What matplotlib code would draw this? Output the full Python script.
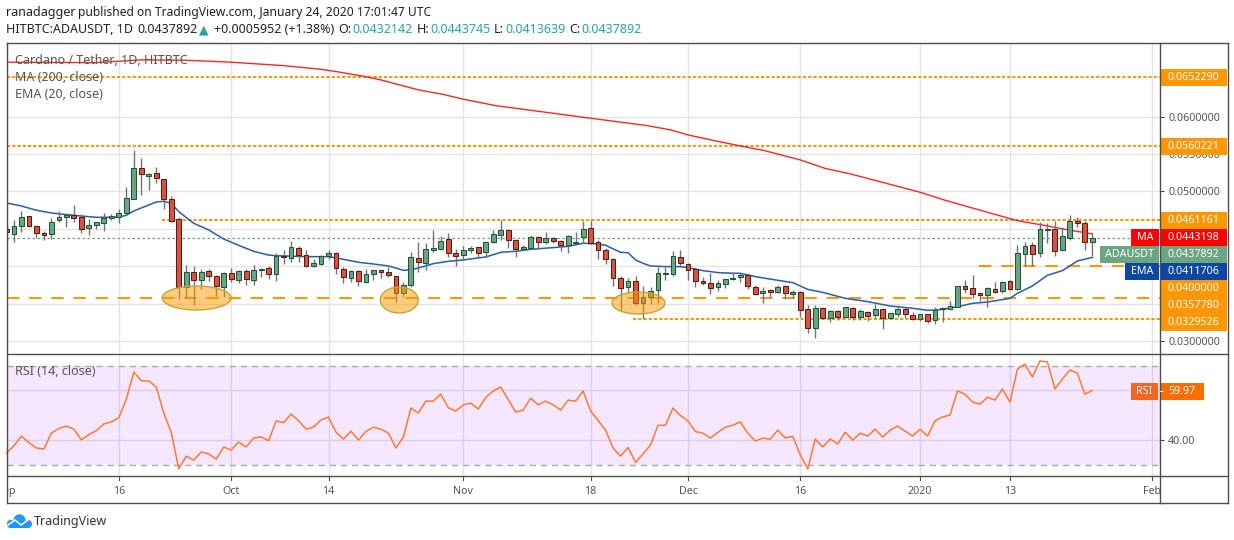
import numpy as np
import pandas as pd
import matplotlib
matplotlib.use('Agg')
import matplotlib.pyplot as plt
import matplotlib.dates as mdates
from matplotlib.patches import Ellipse, Rectangle, Circle

plt.rcParams['font.family'] = ['Noto Sans', 'DejaVu Sans']

W, H = 1234, 540

# prices are in units of 1e-4, days counted from 2019-09-16
opens = [449.3, 442.6, 453.3, 466.6, 453.3, 443.9, 442.6, 461.3, 465.3, 468.0, 465.3, 450.6, 454.6, 457.3, 463.9, 465.7,
         470.6, 489.4, 530.8, 520.1, 524.1, 516.1, 489.4, 462.6, 372.6, 391.8,
         381.0, 393.1, 386.4, 372.6, 390.4, 381.0, 393.1, 381.0, 394.4, 397.1,
         389.1, 414.0, 410.5, 423.8, 415.4, 399.8, 402.5, 413.2, 417.2, 395.8,
         383.8, 393.1, 378.4, 389.1, 394.5, 391.8, 386.4, 363.7, 374.4, 410.5,
         403.8, 421.2, 422.5, 435.9, 417.2, 414.5, 421.2, 425.2, 418.5, 431.9,
         441.3, 447.9, 434.6, 422.5, 423.9, 438.6, 431.9, 437.2, 433.2, 427.9,
         431.4, 438.6, 450.6, 431.9, 421.2, 409.2, 383.8, 371.7, 379.8, 350.3,
         358.4, 367.7, 390.0, 389.1, 411.9, 402.5, 395.8, 379.8, 377.1, 371.7,
         375.8, 382.4, 385.1, 387.8, 371.7, 363.7, 367.7, 365.0, 373.1, 362.4,
         365.0, 342.3, 316.9, 343.7, 330.3, 339.6, 331.6, 343.7, 331.6, 338.3,
         334.3, 342.3, 330.3, 335.6, 342.3, 334.3, 329.0, 335.6, 327.6, 342.3,
         342.8, 345.9, 373.5, 370.4, 363.7, 361.5, 369.0, 367.3, 379.8, 369.0,
         415.9, 427.9, 417.2, 448.8, 449.3, 421.2, 437.2, 460.0, 457.3, 432.1]
closes = [445.2, 453.3, 465.3, 453.3, 443.9, 442.1, 458.6, 465.3, 468.0, 463.9, 449.3, 454.6, 458.6, 463.9, 466.6, 470.6,
          490.7, 530.8, 522.8, 522.8, 518.3, 489.4, 460.4, 372.6, 391.8, 381.0,
          391.8, 386.4, 373.9, 390.4, 382.4, 393.1, 382.4, 394.4, 395.8, 389.1,
          414.0, 411.8, 425.2, 415.4, 400.7, 403.8, 413.2, 417.2, 397.1, 385.1,
          393.1, 379.8, 389.1, 394.5, 391.8, 387.8, 363.7, 374.4, 411.8, 405.2,
          422.5, 423.9, 433.2, 417.2, 413.2, 421.2, 423.9, 417.2, 431.9, 442.6,
          447.9, 434.6, 422.5, 425.2, 438.6, 431.9, 437.2, 433.2, 427.9, 439.9,
          432.0, 449.3, 430.6, 421.2, 409.2, 383.8, 370.4, 379.8, 350.3, 358.4,
          366.4, 390.5, 390.5, 413.2, 403.8, 394.5, 379.8, 377.1, 370.4, 377.1,
          382.4, 383.8, 387.8, 373.1, 362.4, 366.4, 365.0, 371.7, 363.7, 365.0,
          341.0, 316.9, 343.7, 330.3, 339.6, 331.6, 345.0, 331.6, 339.6, 333.0,
          342.3, 330.3, 337.0, 342.3, 335.6, 329.0, 335.6, 327.2, 341.0, 344.1,
          346.8, 373.1, 369.9, 363.3, 361.5, 370.4, 365.9, 378.4, 369.0, 417.2,
          426.5, 415.9, 449.3, 449.3, 419.9, 439.9, 460.0, 457.3, 431.9, 437.9]
highs = [452.8, 461.7, 473.8, 466.6, 453.3, 447.0, 463.9, 473.8, 470.6, 481.8, 469.8, 463.0, 458.6, 471.1, 469.8, 476.4,
         506.3, 555.3, 544.2, 525.0, 532.2, 516.1, 493.8, 465.3, 401.6, 400.2,
         396.2, 395.8, 388.2, 391.8, 397.1, 394.9, 395.8, 401.6, 397.1, 400.2,
         417.2, 421.6, 433.6, 427.0, 421.6, 409.6, 414.9, 421.6, 419.4, 398.5,
         394.5, 394.5, 395.8, 394.5, 394.5, 399.4, 386.4, 378.4, 419.4, 432.3,
         431.0, 448.4, 439.9, 444.4, 422.5, 426.5, 426.5, 425.2, 433.2, 448.4,
         461.8, 449.3, 435.9, 427.9, 441.7, 439.9, 445.3, 438.6, 434.6, 441.3,
         445.3, 460.0, 461.8, 434.6, 423.9, 410.5, 386.4, 383.8, 386.4, 373.5,
         372.2, 398.9, 398.5, 420.3, 421.7, 403.8, 397.1, 386.0, 390.5, 381.1,
         382.4, 391.8, 390.5, 389.1, 374.4, 371.7, 369.0, 374.4, 374.4, 367.7,
         366.4, 348.1, 348.1, 345.0, 341.0, 341.0, 345.0, 345.0, 342.3, 340.1,
         349.4, 343.7, 337.9, 347.7, 343.7, 338.3, 335.6, 335.6, 345.0, 346.0,
         353.5, 373.1, 381.5, 388.2, 363.7, 371.7, 379.3, 379.8, 381.5, 428.3,
         431.9, 431.9, 458.6, 457.3, 460.0, 452.0, 468.0, 465.3, 460.0, 443.7]
lows = [441.7, 432.8, 446.1, 451.9, 437.2, 435.4, 436.8, 459.5, 452.8, 458.6, 444.8, 441.7, 449.3, 447.5, 461.3, 458.2,
        469.8, 489.4, 495.2, 501.8, 511.6, 476.4, 459.5, 356.5, 357.0, 348.1,
        369.5, 380.6, 360.1, 359.2, 379.3, 377.0, 374.8, 375.3, 386.0, 382.4,
        380.6, 402.9, 406.0, 406.0, 399.3, 399.3, 401.6, 409.2, 389.6, 377.1,
        379.3, 373.9, 377.1, 381.1, 384.2, 385.5, 352.6, 359.2, 372.6, 392.7,
        394.5, 418.5, 421.2, 411.8, 400.7, 408.3, 417.2, 412.7, 411.8, 430.6,
        435.0, 424.3, 411.8, 421.2, 422.5, 422.5, 429.2, 430.6, 419.9, 417.2,
        430.6, 430.6, 429.2, 410.1, 402.9, 373.9, 341.0, 363.7, 348.1, 329.0,
        349.4, 351.2, 381.5, 387.3, 398.5, 381.5, 372.6, 374.4, 362.4, 367.3,
        370.4, 381.1, 379.3, 370.0, 361.0, 351.2, 359.3, 363.7, 356.1, 357.5,
        331.6, 311.1, 303.5, 328.9, 325.8, 328.1, 330.3, 328.1, 328.1, 326.7,
        330.3, 316.5, 328.9, 332.5, 330.3, 328.1, 327.2, 323.6, 322.3, 325.8,
        342.8, 345.0, 364.6, 357.9, 353.5, 345.9, 364.6, 364.6, 368.2, 368.2,
        400.3, 400.3, 411.8, 430.6, 413.2, 420.8, 434.6, 452.8, 422.1, 413.6]

ema_days = [-15, -13, -11, -9, -7, -5, -3, -1, 0, 1, 2, 4, 5, 6, 7, 8, 10, 12, 14, 16, 18, 20, 21, 25, 28, 30, 32, 34, 36,
            38, 39, 40, 42, 44, 46, 48, 49, 51, 53, 55, 58, 60, 62, 64, 65, 67, 68, 69, 70, 71, 73, 75, 76, 78, 80, 82, 83,
            85, 88, 90, 92, 94, 97, 100, 103, 106, 108, 109, 110, 112, 114, 116, 119, 120, 122, 124, 126, 128, 130]
ema_vals = [484.5, 480.4, 474.7, 471.1, 468.9, 467.0, 465.3, 465.3, 465.7, 468.0, 473.8, 481.8, 485.8, 486.7, 484.0, 472.9,
            457.3, 448.4, 436.3, 427.9, 419.8, 414.9, 414.0, 412.7, 412.7, 409.2, 405.2, 402.9, 400.3,
            394.5, 394.9, 397.6, 403.4, 406.5, 408.3, 411.0, 412.3, 418.5, 419.9, 422.5, 424.8, 426.5, 430.6, 429.7, 427.9,
            418.5, 418.0, 408.3, 403.8, 400.3, 399.4, 399.4, 398.0, 394.0, 391.4, 390.5, 390.5,
            386.0, 381.1, 378.0, 369.0, 365.0, 357.0, 352.6, 346.8, 343.7, 341.0, 341.4, 342.3, 345.9, 350.3, 352.1, 357.0,
            363.7, 373.5, 387.8, 394.0, 406.9, 411.7]

ma_days = [-15, -3, 3, 9, 15, 22, 26.9, 29, 32.9, 35, 40, 43.2, 46, 50.3, 56.3, 63, 70.5, 73.7, 76, 79.7, 83, 86.2, 91,
           94.4, 97.7, 107, 110.2, 116, 120, 124, 127, 130]
ma_vals = [672.6, 672.0, 675.7, 675.2, 672.6, 668.0, 663.2, 660.1, 653.4, 648.9, 635.6, 629.8, 623.1, 614.6, 606.6, 597.7,
           587.9, 582.1, 575.4, 567.4, 560.7, 554.5, 542.0, 530.4, 523.3, 498.8, 488.5, 472.0, 460.8, 453.8, 448.0, 443.2]

rsi_vals = [34.8, 37.7, 41.6, 38.9, 36.8, 36.4, 42.8, 44.7, 45.6, 44.4, 40.1, 42.2, 43.8, 46.5, 47.3, 49.0,
            56.5, 67.4, 63.9, 63.8, 61.4, 50.9, 43.1, 28.4, 33.5, 31.9,
            35.2, 34.4, 32.3, 37.2, 36.0, 39.2, 37.2, 40.8, 41.3, 39.7,
            47.7, 47.0, 50.5, 47.8, 44.4, 45.2, 48.1, 49.3, 43.2, 40.4,
            43.6, 40.0, 43.5, 45.2, 44.4, 42.8, 36.8, 41.2, 52.9, 50.9,
            55.7, 55.7, 58.5, 53.0, 51.7, 54.2, 54.9, 52.5, 57.2, 59.8,
            61.4, 56.3, 51.3, 52.1, 56.9, 54.2, 55.7, 54.2, 52.1, 56.1,
            55.7, 59.8, 51.7, 47.9, 44.0, 36.8, 33.5, 37.0, 31.0, 34.4,
            38.0, 45.9, 46.0, 52.9, 49.9, 47.7, 43.4, 42.8, 40.8, 43.1,
            45.2, 46.0, 47.3, 42.7, 39.6, 40.8, 40.4, 44.0, 40.8, 41.5,
            34.0, 28.3, 40.4, 37.2, 40.4, 38.4, 43.2, 40.0, 42.8, 41.6,
            44.4, 41.2, 44.0, 45.6, 43.6, 41.6, 44.4, 41.6, 47.8, 49.3,
            50.1, 59.8, 58.5, 55.3, 54.5, 57.3, 56.1, 60.6, 55.3, 68.6,
            70.6, 65.4, 71.9, 71.5, 60.6, 64.6, 68.2, 67.0, 58.5, 60.0]

# level, first day, dash kind
levels = [(0.0652290, -15, 'fine'), (0.0560221, -15, 'fine'), (0.0461161, 5.7, 'fine'),
          (0.0400000, 114.8, 'long'), (0.0357780, -15, 'long'), (0.0329526, 68.7, 'fine')]
# day, price, width in days, height in price
ellipses = [(10.4, 0.03575, 9.2, 0.0032), (37.45, 0.03548, 5.07, 0.00347), (69.4, 0.03508, 7.08, 0.00294)]

price_ticks = [0.03, 0.035, 0.04, 0.045, 0.05, 0.055, 0.06]
price_labels = ['0.0300000', '', '', '', '0.0500000', '0.0550000', '0.0600000']
tick_dates = ['2019-09-01', '2019-09-16', '2019-10-01', '2019-10-14', '2019-11-01', '2019-11-18',
              '2019-12-01', '2019-12-16', '2020-01-01', '2020-01-13', '2020-02-01']
tick_names = ['Sep', '16', 'Oct', '14', 'Nov', '18', 'Dec', '16', '2020', '13', 'Feb']

GRID = '#e4e4e4'
FRAME = '#4d4d4d'
TICK = '#555555'
ORANGE = '#ff9800'
UP, DOWN = '#6ba583', '#d75442'
UP_EDGE, DOWN_EDGE = '#225437', '#5b1a13'
AXIS_FS = 7.7


def px_axes(x0, y0, x1, y1):
    return fig.add_axes([x0 / W, 1 - y1 / H, (x1 - x0) / W, (y1 - y0) / H])


fig = plt.figure(figsize=(W / 100, H / 100), dpi=100, facecolor='white')
ax = px_axes(6.5, 43, 1159.5, 354)
ar = px_axes(6.5, 354, 1159.5, 476)
at = px_axes(6.5, 476, 1159.5, 503)

t0 = mdates.date2num(pd.Timestamp('2019-09-16'))
n = len(closes)
xs = t0 - 15 + np.arange(n)
o, c = np.array(opens) * 1e-4, np.array(closes) * 1e-4
hi, lo = np.array(highs) * 1e-4, np.array(lows) * 1e-4
tx_pos = mdates.date2num(pd.to_datetime(tick_dates))

for a in (ax, ar, at):
    a.set_xlim(t0 - 14.96, t0 + 138.97)
    a.set_xticks(tx_pos)
    a.set_xticklabels([])
    for s in a.spines.values():
        s.set_visible(False)
for a in (ax, ar):
    a.grid(True, color=GRID, lw=1.0)
    a.set_axisbelow(True)
    a.tick_params(axis='x', length=0)

# price panel
ax.set_ylim(0.03 - 13 / 7483, 0.03 + 298 / 7483)
ax.set_yticks(price_ticks)
ax.set_yticklabels(price_labels)
ax.yaxis.tick_right()
ax.tick_params(axis='y', length=3.2, width=0.8, color=FRAME, labelcolor=TICK, labelsize=AXIS_FS, pad=3.0)

for lev, start, kind in levels:
    dash = (0, (1.6, 1.0)) if kind == 'fine' else (0, (6.1, 4.9))
    ax.plot([t0 + start, t0 + 139], [lev, lev], color=ORANGE, lw=1.45, ls=dash, zorder=2)
ax.axhline(c[-1], color=UP, lw=0.9, ls=(0, (2, 2)), zorder=2)

ax.plot(t0 + np.array(ma_days), np.array(ma_vals) * 1e-4, color='#ff0000', lw=1.0, alpha=0.85, zorder=3)
ax.plot(t0 + np.array(ema_days), np.array(ema_vals) * 1e-4, color='#2a5caa', lw=1.1, zorder=3)

up = c >= o
colors = np.where(up, UP, DOWN)
edges = np.where(up, UP_EDGE, DOWN_EDGE)
ax.vlines(xs, lo, hi, color='#737375', lw=1.0, zorder=4)
ax.bar(xs, np.maximum(np.abs(c - o), 2e-5), bottom=np.minimum(o, c), width=0.64, color=colors, edgecolor=edges,
       linewidth=0.75, zorder=5)

for day, price, wd, ht in ellipses:
    ax.add_patch(Ellipse((t0 + day, price), wd, ht, facecolor=(1.0, 0.6, 0.0, 0.5), edgecolor='#c2a72e', lw=1.0, zorder=6))

# RSI panel
ar.set_ylim(25.5, 74.7)
ar.set_yticks([40, 60])
ar.set_yticklabels(['40.00', ''])
ar.yaxis.tick_right()
ar.tick_params(axis='y', length=3.2, width=0.8, color=FRAME, labelcolor=TICK, labelsize=AXIS_FS, pad=3.0)
ar.axhspan(30, 70, color='#9915ff', alpha=0.1, lw=0, zorder=1)
for lev in (30, 70):
    ar.axhline(lev, color='#b0a5b8', lw=1.0, ls=(0, (4.5, 3.5)), zorder=2)
ar.plot(t0 - 15 + np.arange(len(rsi_vals)), rsi_vals, color='#ff7a33', lw=1.1, zorder=4, clip_on=False)

# date strip
at.set_ylim(0, 1)
at.set_yticks([])
at.tick_params(axis='x', length=0)
at.patch.set_alpha(0)
for x, name in zip(tx_pos, tick_names):
    at.text(x, 0.44, name, ha='center', va='center', color=TICK, fontsize=AXIS_FS, clip_on=True)
    at.plot([x, x], [1, 0.87], color=FRAME, lw=0.8)

# overlay in pixel space for frame, tags and titles
over = fig.add_axes([0, 0, 1, 1], zorder=10)
over.set_xlim(0, W)
over.set_ylim(H, 0)
over.axis('off')


def hline(y, x0=6.5, x1=1227.5):
    over.plot([x0, x1], [y, y], color=FRAME, lw=1.0)


def vline(x, y0=43, y1=503):
    over.plot([x, x], [y0, y1], color=FRAME, lw=1.0)


hline(43)
hline(354)
hline(476)
hline(503)
vline(6.5)
vline(1159.5)
vline(1227.5)


def tag(x0, x1, yc, color, text, h=17):
    over.add_patch(Rectangle((x0, yc - h / 2), x1 - x0, h, facecolor=color, edgecolor='none'))
    over.text((x0 + x1) / 2, yc + 0.2, text, ha='center', va='center', color='white', fontsize=7.7, weight='bold')


tag(1160, 1227, 77.5, ORANGE, '0.0652290')
tag(1160, 1227, 146.5, ORANGE, '0.0560221')
tag(1160, 1227, 220.5, ORANGE, '0.0461161')
tag(1131, 1158.5, 237.5, '#ff0000', 'MA')
tag(1160, 1227, 237.5, '#ff0000', '0.0443198')
tag(1100, 1158.5, 254.5, UP, 'ADAUSDT')
tag(1160, 1227, 254.5, UP, '0.0437892')
tag(1125, 1158.5, 271.5, '#0d47a1', 'EMA')
tag(1160, 1227, 271.5, '#0d47a1', '0.0411706')
tag(1160, 1227, 288.5, ORANGE, '0.0400000')
tag(1160, 1227, 305.5, ORANGE, '0.0357780')
tag(1160, 1227, 322.5, ORANGE, '0.0329526')
tag(1131, 1158, 391.5, '#f26522', 'RSI')
tag(1160, 1204, 391.5, '#ff6d00', '59.97')
over.plot([1160, 1163], [391, 391], color='white', lw=0.8)


def label(x, y, s, **kw):
    kw.setdefault('color', '#222222')
    kw.setdefault('fontsize', 9)
    over.text(x, y, s, va='center', **kw)


for y, s in [(60.5, 'Cardano / Tether, 1D, HITBTC'), (77.5, 'MA (200, close)'), (94.5, 'EMA (20, close)'),
             (371.5, 'RSI (14, close)')]:
    label(15, y, s, color='#555555')

label(6, 12.5, 'ranadagger', weight='bold')
label(77.5, 12.5, 'published on TradingView.com, January 24, 2020 17:01:47 UTC', fontsize=8.7)
label(6, 29.5, 'HITBTC:ADAUSDT, 1D', weight='bold')
label(137, 29.5, '0.0437892')
label(199, 29.5, '▲', color='#26a69a', fontsize=9)
label(214, 29.5, '+0.0005952 (+1.38%)')
for x_k, key, x_v, val in [(338, 'O:', 352, '0.0432142'), (416.5, 'H:', 430.5, '0.0443745'),
                           (494, 'L:', 505, '0.0413639'), (569, 'C:', 581.5, '0.0437892')]:
    label(x_k, 29.5, key, weight='bold')
    label(x_v, 29.5, val, color='#26a69a')

# logo
for cx, cy, r in [(11, 524, 4.2), (19.5, 520.3, 6.0), (27.8, 524, 4.2)]:
    over.add_patch(Circle((cx, cy), r, facecolor='#2196f3', edgecolor='none'))
over.add_patch(Rectangle((11, 522), 17, 6.2, facecolor='#2196f3', edgecolor='none'))
over.plot([8, 15, 21, 28], [525, 520, 525, 520], color='white', lw=1.1)
label(34, 521.5, 'TradingView', color='#333333')

fig.savefig('out.png', dpi=100)
